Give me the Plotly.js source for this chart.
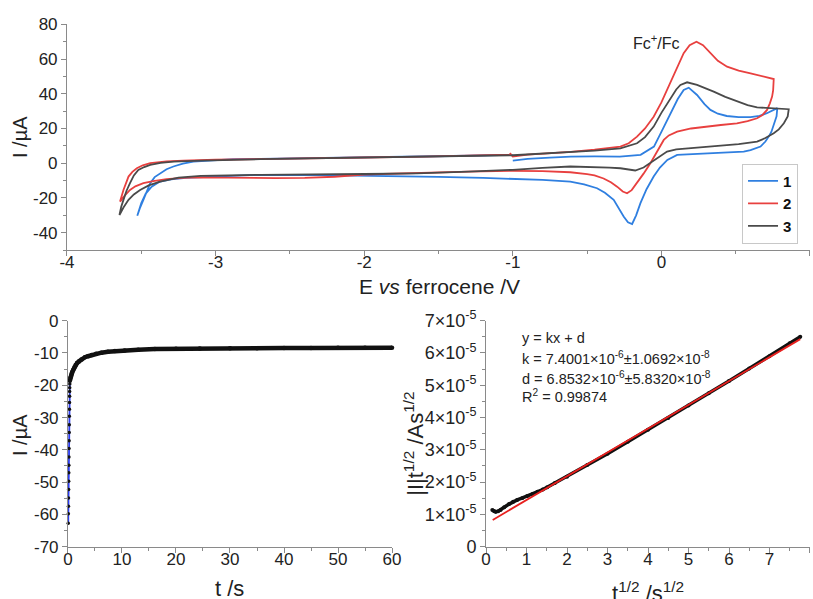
<!DOCTYPE html>
<html>
<head>
<meta charset="utf-8">
<script src="https://cdn.plot.ly/plotly-3.0.1.min.js"></script>
<style>html,body{margin:0;padding:0;background:#fff;}#chart{width:813px;height:599px;}</style>
</head>
<body>
<div id="chart"></div>
<script>
// ---- CV data (E vs ferrocene / V, I / uA), scan order ----
const cv1_E = [-1.00,-0.90,-0.75,-0.61,-0.45,-0.28,-0.14,-0.05,0.00,0.06,0.11,0.15,0.184,0.24,0.29,0.33,0.38,0.44,0.52,0.60,0.66,0.71,0.75,0.78,
  0.775,0.756,0.74,0.722,0.70,0.667,0.60,0.554,0.45,0.285,0.106,0.04,-0.01,-0.052,-0.10,-0.141,-0.17,-0.197,-0.225,-0.254,-0.29,-0.321,-0.38,-0.433,-0.52,-0.613,-0.80,-1.0,-1.2,-1.5,-1.9,-2.3,-2.77,-3.0,-3.2,-3.3,-3.38,-3.43,-3.47,-3.50,-3.527,
  -3.51,-3.486,-3.46,-3.44,-3.41,-3.374,-3.33,-3.284,-3.22,-3.15,-3.0,-2.88,-2.7,-2.4,-2.0,-1.6,-1.3,-1.0];
const cv1_I = [1.5,2.5,3.2,3.8,3.9,3.8,4.8,9.6,18,28.8,37,42.2,43.5,39.3,34,30.7,28.5,27.2,26.6,26.5,27.3,28.8,30.3,31.7,
  27,22,18,15.3,12.5,9.6,7.5,6.7,6.2,5.8,4.8,1.9,-2.5,-7.7,-15,-23,-30,-35,-34,-30.7,-25.5,-21.1,-17,-14.4,-12.2,-10.6,-9.6,-8.9,-8.5,-7.9,-7.3,-6.9,-6.9,-7.6,-8.5,-9.3,-10.8,-13.5,-17.5,-23,-30.3,
  -26,-21.1,-15.5,-11.5,-8,-5.8,-3.5,-1.9,-0.3,0.9,1.8,2.3,2.5,2.8,3.3,3.8,4.3,4.8];

const cv2_E = [-1.02,-1.00,-0.90,-0.75,-0.61,-0.45,-0.276,-0.22,-0.164,-0.11,-0.052,0.00,0.06,0.10,0.15,0.19,0.236,0.28,0.33,0.38,0.442,0.52,0.60,0.68,0.745,0.756,
  0.752,0.745,0.73,0.711,0.68,0.644,0.58,0.508,0.40,0.285,0.20,0.106,0.05,0.016,-0.03,-0.074,-0.12,-0.164,-0.20,-0.231,-0.26,-0.298,-0.34,-0.389,-0.45,-0.50,-0.613,-0.80,-1.0,-1.3,-1.6,-2.0,-2.2,-2.4,-2.6,-2.8,-3.0,-3.104,-3.22,-3.33,-3.42,-3.486,-3.54,-3.576,-3.61,-3.643,
  -3.62,-3.60,-3.586,-3.56,-3.53,-3.49,-3.44,-3.33,-3.217,-3.0,-2.7,-2.4,-2.0,-1.6,-1.3,-1.02];
const cv2_I = [5.8,3.9,5.0,5.6,6.5,7.8,9.6,11.5,15.3,20,26.8,35,46,54,63.4,68,70,68,63.4,59,55.6,53.3,51.8,50.2,49,48.5,
  42,38.4,34.5,30.7,27.8,25.9,24.2,23,22,21,20,18.2,16,13.4,6.5,0,-6,-11.5,-15.5,-17.3,-16.3,-13.5,-11,-8.8,-7,-6.3,-5.2,-4.6,-4.4,-4.8,-5.5,-6.5,-7.8,-8.5,-8.6,-8.4,-8.0,-8.1,-8.5,-9.2,-10.3,-11.5,-13.3,-15.4,-18.5,-22.1,
  -15.4,-11,-7.7,-5,-2.9,-1.2,0,1.0,1.5,2.0,2.5,2.8,3.3,3.8,4.3,5.0];

const cv3_E = [-1.0,-0.8,-0.613,-0.45,-0.276,-0.164,-0.11,-0.052,0.00,0.06,0.10,0.128,0.173,0.24,0.30,0.352,0.43,0.51,0.58,0.644,0.75,0.857,
  0.85,0.824,0.79,0.756,0.70,0.644,0.52,0.397,0.28,0.173,0.10,0.038,-0.02,-0.074,-0.12,-0.176,-0.22,-0.276,-0.35,-0.433,-0.613,-0.8,-1.0,-1.3,-1.645,-2.0,-2.4,-2.7,-3.1,-3.25,-3.374,-3.45,-3.508,-3.55,-3.586,-3.62,-3.647,
  -3.635,-3.62,-3.60,-3.576,-3.55,-3.52,-3.48,-3.44,-3.37,-3.284,-3.1,-2.7,-2.3,-2.0,-1.6,-1.3,-1.0];
const cv3_I = [4.6,5.5,6.3,7.3,8.6,11.5,15,21.1,29,37.4,42.5,45.1,46.6,45.1,43.2,41.2,38.2,35.5,33.5,32.2,31.5,31.1,
  27,23,19.5,17.3,14.5,12.4,11,10,9.2,8.6,8,6.7,3.5,0,-2.5,-4.2,-3.7,-2.9,-2.5,-2.3,-1.9,-2.7,-3.8,-4.8,-5.8,-6.2,-6.4,-6.7,-7.3,-8.3,-10.6,-12.8,-15.4,-18,-21.1,-25.5,-29.8,
  -25,-21.1,-16,-11.5,-7,-3.9,-2.2,-1,0.2,0.9,1.5,2.3,2.9,3.3,3.8,4.2,4.6];

const cvNames = ['1', '2', '3'];
const cvXTicks = [-4, -3, -2, -1, 0, 1];
const cvXTickText = ['-4', '-3', '-2', '-1', '0', '1'];
const cvYTicks = [-40, -20, 0, 20, 40, 60, 80];
const cvYTickText = ['-40', '-20', '0', '20', '40', '60', '80'];

// ---- Chronoamperometry (t / s, I / uA) ----
const chronoStartT = [0.05,0.07,0.09,0.10,0.12,0.13,0.15,0.16,0.18,0.19,0.21,0.22,0.24,0.25,0.27,0.28,0.30,0.31,0.32,0.34,0.35];
const chronoStartI = [-62.7,-59.8,-57.5,-54.9,-52.3,-49.7,-47.1,-44.8,-42.2,-39.6,-37.2,-34.6,-32.2,-29.6,-27.4,-25.3,-23.4,-21.9,-20.8,-19.6,-18.6];
const chronoTailT = [0.35,0.45,0.55,0.68,0.8,0.99,1.2,1.42,1.7,2.04,2.5,3.15,3.7,4.4,5.2,6.2,7.4,8.7,10.5,13,16.1,20,24.4,30,35,40,45,50,55,60];
const chronoTailI = [-18.6,-17.7,-17.1,-16.4,-15.9,-15.2,-14.4,-13.7,-13.1,-12.6,-12.0,-11.3,-11.0,-10.6,-10.2,-9.9,-9.6,-9.4,-9.2,-9.0,-8.8,-8.7,-8.6,-8.55,-8.5,-8.45,-8.42,-8.4,-8.38,-8.35];
const chronoYTicks = [0, -10, -20, -30, -40, -50, -60, -70];
const chronoYTickText = ['0', '-10', '-20', '-30', '-40', '-50', '-60', '-70'];

// ---- Cottrell plot (t^1/2 / s^1/2, |I| t^1/2 / A s^1/2) ----
const cottX = [0.156,0.2,0.24,0.3,0.36,0.45,0.57,0.67,0.77,0.9,1.02,1.15,1.27,1.4,1.51,1.7,2.0,2.5,3.0,3.5,4.0,4.5,5.0,5.5,6.0,6.5,7.0,7.5,7.76];
const cottY = [1.14e-5,1.10e-5,1.08e-5,1.10e-5,1.14e-5,1.22e-5,1.32e-5,1.39e-5,1.45e-5,1.51e-5,1.57e-5,1.63e-5,1.70e-5,1.77e-5,1.84e-5,1.97e-5,2.17e-5,2.53e-5,2.88e-5,3.25e-5,3.62e-5,3.99e-5,4.37e-5,4.75e-5,5.13e-5,5.52e-5,5.90e-5,6.30e-5,6.50e-5];
const fitX = [0.165, 7.76];
const fitY = [8.3e-6, 6.43e-5];

const cottTickVals = [0,1e-5,2e-5,3e-5,4e-5,5e-5,6e-5,7e-5];
const cottTickText = ['0','1×10<sup>-5</sup>','2×10<sup>-5</sup>','3×10<sup>-5</sup>','4×10<sup>-5</sup>','5×10<sup>-5</sup>','6×10<sup>-5</sup>','7×10<sup>-5</sup>'];

const fitText = ['y = kx + d',
  'k = 7.4001×10<sup>-6</sup>±1.0692×10<sup>-8</sup>',
  'd = 6.8532×10<sup>-6</sup>±5.8320×10<sup>-8</sup>',
  'R<sup>2</sup> = 0.99874'];

const FONT = 'Liberation Sans, Arial, Helvetica, sans-serif';
const colors = ['#2f7fe0', '#e8403f', '#4a4a4a'];

const traces = [];
[[cv1_E, cv1_I], [cv2_E, cv2_I], [cv3_E, cv3_I]].forEach((d, i) => {
  traces.push({x: d[0], y: d[1], type: 'scatter', mode: 'lines', name: cvNames[i],
    line: {color: colors[i], width: 1.8}, xaxis: 'x', yaxis: 'y', showlegend: true});
});
traces.push({x: chronoStartT, y: chronoStartI, type: 'scatter', mode: 'lines', line: {color: '#2a3cf0', width: 1.8},
  xaxis: 'x2', yaxis: 'y2', showlegend: false, cliponaxis: false});
traces.push({x: chronoStartT, y: chronoStartI, type: 'scatter', mode: 'markers', marker: {color: '#111', size: 3.5},
  xaxis: 'x2', yaxis: 'y2', showlegend: false, cliponaxis: false});
traces.push({x: chronoTailT, y: chronoTailI, type: 'scatter', mode: 'lines+markers', line: {color: '#111', width: 4.5},
  marker: {color: '#111', size: 4.5}, xaxis: 'x2', yaxis: 'y2', showlegend: false, cliponaxis: false});
traces.push({x: cottX, y: cottY, type: 'scatter', mode: 'lines+markers', line: {color: '#111', width: 3.5},
  marker: {color: '#111', size: 4}, xaxis: 'x3', yaxis: 'y3', showlegend: false});
traces.push({x: fitX, y: fitY, type: 'scatter', mode: 'lines', line: {color: '#e8201f', width: 1.8},
  xaxis: 'x3', yaxis: 'y3', showlegend: false});

function ax(extra) {
  return Object.assign({
    showgrid: false, zeroline: false, showline: true, linecolor: '#8a8a8a', linewidth: 1,
    ticks: 'outside', ticklen: 5, tickcolor: '#8a8a8a', tickwidth: 1,
    tickfont: {family: FONT, size: 17, color: '#222'}, fixedrange: true
  }, extra);
}
function minor(d) { return {dtick: d, ticks: 'outside', ticklen: 3, tickcolor: '#8a8a8a', showgrid: false}; }

const ann = [];
function title(text, x, y, angle, size) {
  ann.push({text: text, xref: 'paper', yref: 'paper', x: x, y: y, showarrow: false, textangle: angle || 0,
    xanchor: 'center', yanchor: 'middle', font: {family: FONT, size: size || 20, color: '#222'}});
}
title('I /µA', 0.0246, 0.7713, -90, 20);
title('E <i>vs</i> ferrocene /V', 0.5412, 0.5225, 0, 21);
title('I /µA', 0.0246, 0.2738, -90, 20);
title('t /s', 0.2829, 0.018, 0, 22);
title('|I|t<sup>1/2</sup> /As<sup>1/2</sup>', 0.509, 0.2588, -90, 22);
title('t<sup>1/2</sup> /s<sup>1/2</sup>', 0.797, 0.011, 0, 22);
ann.push({text: 'Fc<sup>+</sup>/Fc', xref: 'paper', yref: 'paper', x: 0.8075, y: 0.93, showarrow: false,
  xanchor: 'center', yanchor: 'middle', font: {family: FONT, size: 16, color: '#222'}});
const fitYs = [0.4357, 0.4023, 0.3689, 0.3389];
fitText.forEach((t, i) => {
  ann.push({text: t, xref: 'paper', yref: 'paper', x: 0.6396, y: fitYs[i], showarrow: false,
    xanchor: 'left', yanchor: 'middle', font: {family: FONT, size: 14.5, color: '#222'}});
});

const layout = {
  width: 813, height: 599, margin: {l: 0, r: 0, t: 0, b: 0},
  paper_bgcolor: '#fff', plot_bgcolor: 'rgba(0,0,0,0)',
  font: {family: FONT, color: '#222'},
  xaxis: ax({domain: [0.0824, 0.9963], anchor: 'y', range: [-4, 1], tickmode: 'array', tickvals: cvXTicks, ticktext: cvXTickText, ticklabelstandoff: -8, minor: minor(0.5)}),
  yaxis: ax({domain: [0.5826, 0.9594], anchor: 'x', range: [-50, 80], tickmode: 'array', tickvals: cvYTicks, ticktext: cvYTickText, minor: minor(10)}),
  xaxis2: ax({domain: [0.0836, 0.4822], anchor: 'y2', range: [0, 60], dtick: 10, tick0: 0, ticklabelstandoff: -8, minor: minor(5)}),
  yaxis2: ax({domain: [0.0873, 0.4646], anchor: 'x2', range: [-70, 0], tickmode: 'array', tickvals: chronoYTicks, ticktext: chronoYTickText, minor: minor(5)}),
  xaxis3: ax({domain: [0.5978, 0.9963], anchor: 'y3', range: [0, 8], dtick: 1, tick0: 0, ticklabelstandoff: -8, minor: minor(0.5)}),
  yaxis3: ax({domain: [0.0873, 0.4646], anchor: 'x3', range: [0, 7e-5], tickmode: 'array', tickvals: cottTickVals, ticktext: cottTickText,
    tickfont: {family: FONT, size: 18, color: '#222'}, minor: minor(0.5e-5)}),
  showlegend: true,
  legend: {x: 0.9127, y: 0.727, xanchor: 'left', yanchor: 'top', bgcolor: '#fff', bordercolor: '#c8c8c8', borderwidth: 1,
    font: {family: FONT, size: 15, color: '#111', weight: 'bold'}, tracegroupgap: 0},
  annotations: ann
};

Plotly.newPlot('chart', traces, layout, {staticPlot: true, displayModeBar: false});
</script>
</body>
</html>
